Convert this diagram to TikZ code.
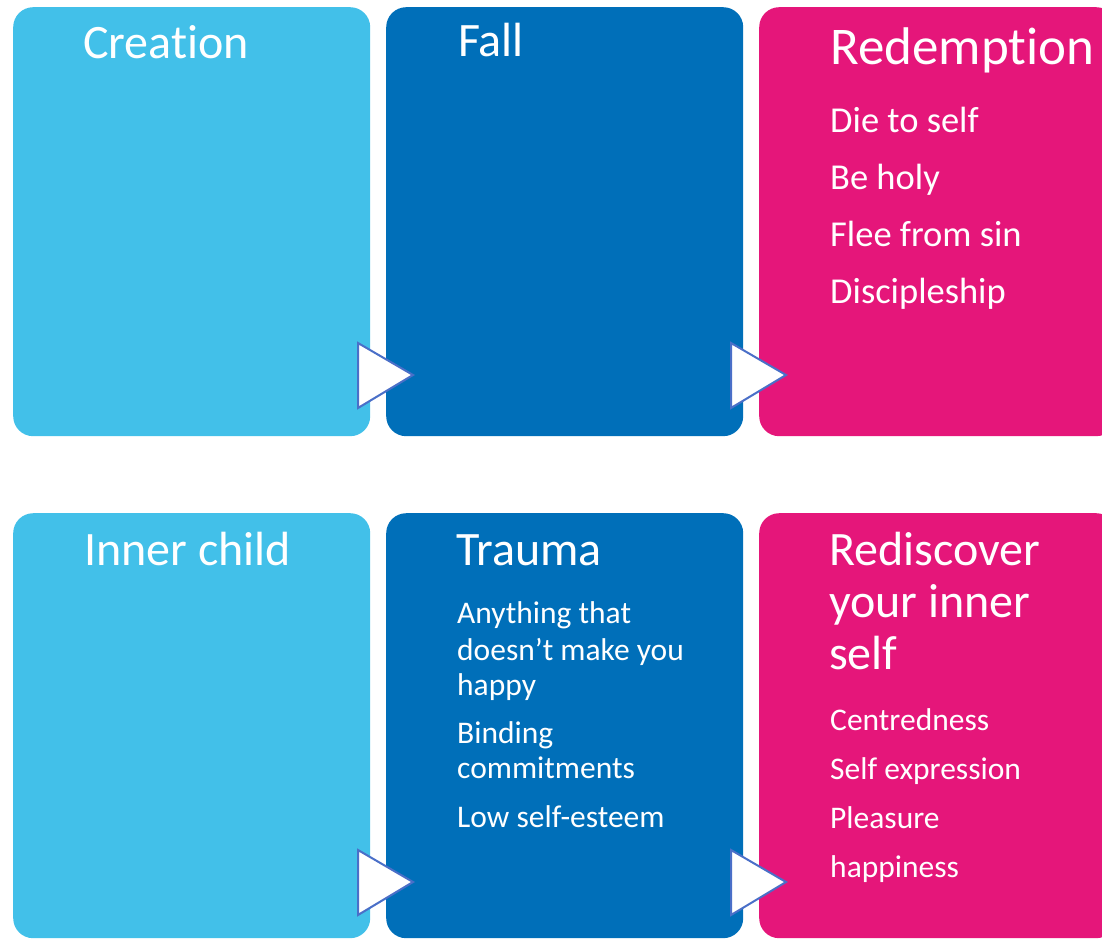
\documentclass[tikz,border=0pt]{standalone}
\usepackage{fontspec}
\setmainfont[Ligatures=NoCommon]{Carlito}
\definecolor{lightblue}{HTML}{42C0E9}
\definecolor{darkblue}{HTML}{006FB9}
\definecolor{pinkbox}{HTML}{E5167A}
\definecolor{arrowline}{HTML}{4A6FC8}

\begin{document}
\begin{tikzpicture}[x=1pt,y=-1pt,
  stage/.style={rounded corners=20,inner sep=0,minimum width=357,anchor=north west},
  stagetitle/.style={text=white,inner sep=0,anchor=base west,font=\fontsize{48}{52}\selectfont},
  stageitem/.style={text=white,inner sep=0,anchor=base west,font=\fontsize{31.5}{36}\selectfont},
  arrowtri/.style={fill=white,draw=arrowline,line width=2pt,line join=miter}]
  \useasboundingbox (0,0) rectangle (1102,939);
  % boxes, top and bottom row
  \foreach \c/\x [count=\i] in {lightblue/13,darkblue/386,pinkbox/759} {
    \node[stage,fill=\c,minimum height=429] (top\i) at (\x,7) {};
    \node[stage,fill=\c,minimum height=425] (bot\i) at (\x,513) {};
  }
  % white arrow heads between the boxes
  \foreach \x in {358,731} { \foreach \y in {343,850} {
    \draw[arrowtri] (\x,\y) -- ++(55,32) -- ++(-55,33) -- cycle; } }
  % top row
  \node[stagetitle] (creation) at (83,59) {Creation};
  \node[stagetitle] (fall) at (458,57) {Fall};
  \node[stagetitle,font=\fontsize{53}{58}\selectfont] (redemption) at (830,65) {Redemption};
  \foreach \t [count=\i] in {Die to self,Be holy,Flee from sin,Discipleship}
    \node[stageitem,font=\fontsize{36.5}{42}\selectfont] (red\i) at (830,75+57*\i) {\t};
  % bottom row
  \node[stagetitle] (inner) at (84,565) {Inner child};
  \node[stagetitle] (trauma) at (456,565) {Trauma};
  \foreach \t [count=\i] in {Rediscover,your inner,self}
    \node[stagetitle] (redis\i) at (829,513+52*\i) {\t};
  \foreach \y/\t [count=\i] in {623/Anything that,660/doesn’t make you,695/happy,743/Binding,778/commitments,827/Low self-esteem}
    \node[stageitem] (trauma\i) at (457,\y) {\t};
  \foreach \t [count=\i] in {Centredness,Self expression,Pleasure,happiness}
    \node[stageitem] (self\i) at (830,681+49*\i) {\t};
\end{tikzpicture}
\end{document}
